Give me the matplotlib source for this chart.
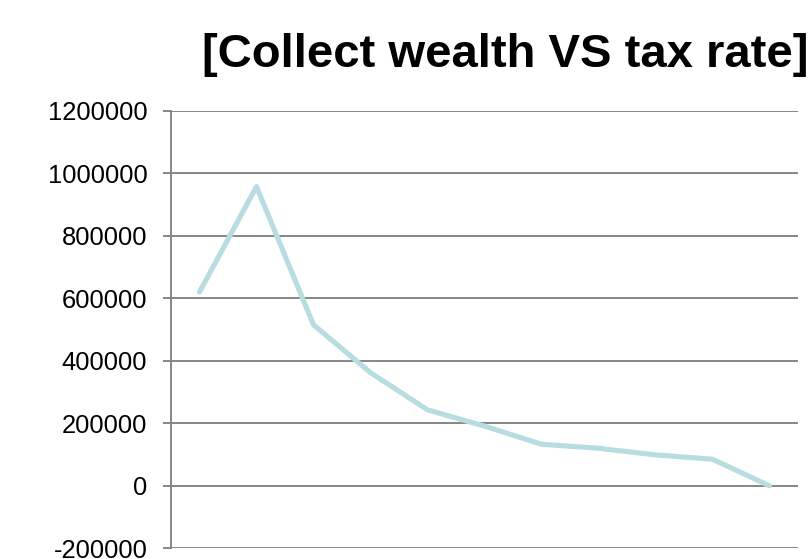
import matplotlib.pyplot as plt
import numpy as np

plt.rcParams['font.family'] = ['Liberation Sans', 'DejaVu Sans']

# tax rate steps (category axis, labels not shown) and collected wealth
tax_rate = [0, 10, 20, 30, 40, 50, 60, 70, 80, 90, 100]
collected = [620000, 957000, 515000, 362000, 243000, 191000, 133000, 120000, 99000, 85000, 0]

y_ticks = [-200000, 0, 200000, 400000, 600000, 800000, 1000000, 1200000]

grey = '#868686'

fig = plt.figure(figsize=(8.08, 5.59), dpi=100)
ax = fig.add_axes([0.2116, 0.0191, 0.9876 - 0.2116, 0.802 - 0.0191])

x = np.arange(len(tax_rate))
ax.plot(x, collected, color='#B7DDE0', linewidth=3.7, solid_capstyle='round', zorder=3)

ax.set_xlim(-0.5, len(tax_rate) - 0.5)
ax.set_ylim(y_ticks[0], y_ticks[-1])
ax.set_yticks(y_ticks)
ax.set_yticklabels([str(v) for v in y_ticks])
ax.set_xticks([])

ax.grid(axis='y', color=grey, linewidth=1.4, zorder=1)
for s in ['top', 'right', 'bottom']:
    ax.spines[s].set_visible(False)
ax.spines['left'].set_color(grey)
ax.spines['left'].set_linewidth(1.4)
ax.tick_params(axis='y', length=6, width=1.4, color=grey, pad=11, labelsize=18.4)

fig.text(1.0005, 1 - 67 / 559, '[Collect wealth VS tax rate]', ha='right', va='baseline',
         fontsize=34, fontweight='bold')

fig.savefig('out.png', dpi=100)
